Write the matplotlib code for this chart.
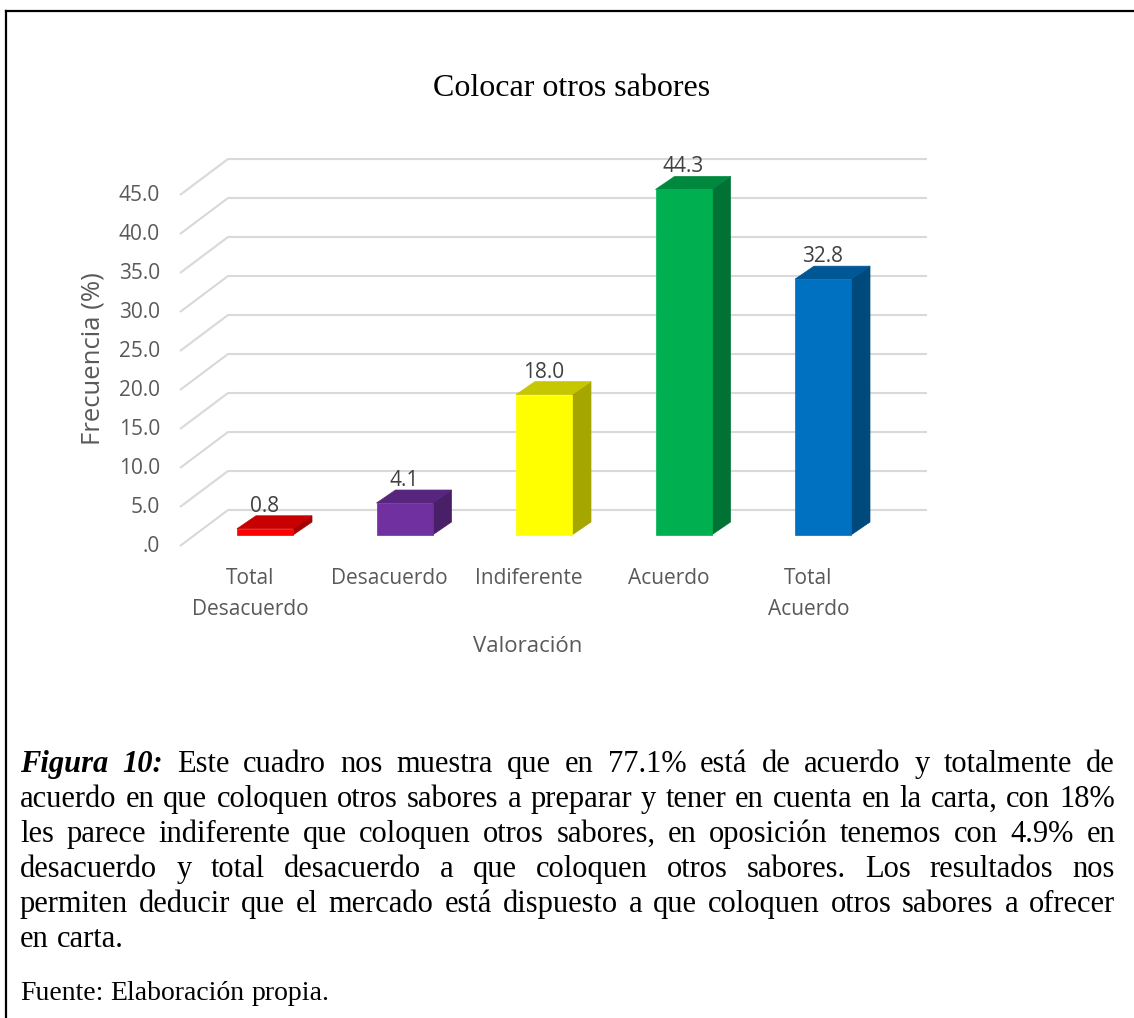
import matplotlib
matplotlib.use('Agg')
import matplotlib.pyplot as plt
from matplotlib.patches import Polygon, Rectangle
from matplotlib.lines import Line2D
from matplotlib.colors import to_rgb

# datos del grafico
categorias = ['Total\nDesacuerdo', 'Desacuerdo', 'Indiferente', 'Acuerdo', 'Total\nAcuerdo']
frecuencia = [0.8, 4.1, 18.0, 44.3, 32.8]
colores = ['#FF0000', '#7030A0', '#FFFF00', '#00B050', '#0070C0']
ticks_y = [0, 5, 10, 15, 20, 25, 30, 35, 40, 45]
titulo = 'Colocar otros sabores'
eje_x = 'Valoración'
eje_y = 'Frecuencia (%)'
nota = [
    'Figura 10: Este cuadro nos muestra que en 77.1% está de acuerdo y totalmente de',
    'acuerdo en que coloquen otros sabores a preparar y tener en cuenta en la carta, con 18%',
    'les parece indiferente que coloquen otros sabores, en oposición tenemos con 4.9% en',
    'desacuerdo y total desacuerdo a que coloquen otros sabores. Los resultados nos',
    'permiten deducir que el mercado está dispuesto a que coloquen otros sabores a ofrecer',
    'en carta.',
]
fuente = 'Fuente: Elaboración propia.'

W, H = 1134, 1018
fig = plt.figure(figsize=(W / 100, H / 100), dpi=100)

# escala del grafico (pixeles por categoria / por unidad)
X0, CAT = 265, 139.5
Y0, UNI = 535, 7.8
ax = fig.add_axes([0, 0, 1, 1])
ax.set_xlim((0 - X0) / CAT, (W - X0) / CAT)
ax.set_ylim((Y0 - H) / UNI, Y0 / UNI)
ax.axis('off')

# profundidad 3D
prof_x, prof_y = 48 / CAT, 36 / UNI       # pared frontal -> pared trasera
frente = -0.306                            # plano frontal relativo a las barras
barra_dx, barra_dy = 19 / CAT, 13 / UNI   # fondo de cada barra
ancho = 56 / CAT
x_izq = -85 / CAT - frente * prof_x       # borde izq en el plano de las barras
x_der = (927 - X0) / CAT

gris = '#595959'
fuente_graf = 'Open Sans'
tam = 15

# lineas de cuadricula
for v in ticks_y:
    xf, yf = x_izq + frente * prof_x, v + frente * prof_y
    xb, yb = x_izq + (1 + frente) * prof_x, v + (1 + frente) * prof_y
    ax.plot([xf, xb, x_der], [yf, yb, yb], color='#D9D9D9', lw=1.5, zorder=1,
            solid_capstyle='butt')
    etiqueta = '.0' if v == 0 else f'{v:.1f}'
    ax.text(xf - 20 / CAT, yf, etiqueta, ha='right', va='center', fontsize=tam,
            color=gris, family=fuente_graf)


def tono(c, f):
    r, g, b = to_rgb(c)
    return (r * f, g * f, b * f)


# barras 3D
for i, (v, c) in enumerate(zip(frecuencia, colores)):
    x1, x2 = i - ancho / 2, i + ancho / 2
    ax.add_patch(Polygon([(x2, 0), (x2 + barra_dx, barra_dy), (x2 + barra_dx, v + barra_dy), (x2, v)],
                         closed=True, fc=tono(c, 0.65), ec=tono(c, 0.65), lw=0.5, zorder=3))
    ax.add_patch(Polygon([(x1, v), (x2, v), (x2 + barra_dx, v + barra_dy), (x1 + barra_dx, v + barra_dy)],
                         closed=True, fc=tono(c, 0.78), ec=tono(c, 0.78), lw=0.5, zorder=3))
    ax.add_patch(Rectangle((x1, 0), ancho, v, fc=c, ec=c, lw=0.5, zorder=4))
    ax.text(i, v + barra_dy + 4 / UNI, f'{v:.1f}', ha='center', va='baseline',
            fontsize=tam, color='#404040', family=fuente_graf, zorder=5)
    ax.text(i + frente * prof_x, -33 / UNI, categorias[i], ha='center', va='top',
            fontsize=tam, color=gris, family=fuente_graf, linespacing=1.62)

ax.text((528 - X0) / CAT, -112 / UNI, eje_x, ha='center', va='center', fontsize=16,
        color=gris, family=fuente_graf)
fig.text(93 / W, 1 - 359 / H, eje_y, rotation=90, ha='center', va='center',
         fontsize=18.5, color=gris, family=fuente_graf)
fig.text(572 / W, 1 - 88 / H, titulo, ha='center', va='center', fontsize=23,
         family='Liberation Serif', color='black')

# marco
fig.add_artist(Line2D([6 / W, 6 / W], [0, 1 - 11 / H], color='black', lw=1.6))
fig.add_artist(Line2D([6 / W, 1], [1 - 11 / H, 1 - 11 / H], color='black', lw=1.6))

# texto de la figura, justificado
r = fig.canvas.get_renderer()
izq, der = 20, 1115
base = 772
paso = 35


def poner_linea(texto, y, justificar, size, negrita=0):
    palabras = texto.split(' ')
    objs = []
    for k, p in enumerate(palabras):
        bi = k < negrita
        t = fig.text(0, 1 - y / H, p, fontsize=size, family='Liberation Serif',
                     fontweight='bold' if bi else 'normal',
                     fontstyle='italic' if bi else 'normal', va='baseline', ha='left')
        objs.append(t)
    anchos = [t.get_window_extent(r).width for t in objs]
    if justificar:
        hueco = (der - izq - sum(anchos)) / (len(objs) - 1)
    else:
        hueco = size * 0.25 * 100 / 72
    x = izq
    for t, a in zip(objs, anchos):
        t.set_x(x / W)
        x += a + hueco


for k, linea in enumerate(nota):
    poner_linea(linea, base + k * paso, k < len(nota) - 1, 22, negrita=2 if k == 0 else 0)

poner_linea(fuente, 1000, False, 20)

fig.savefig('out.png', dpi=100)
